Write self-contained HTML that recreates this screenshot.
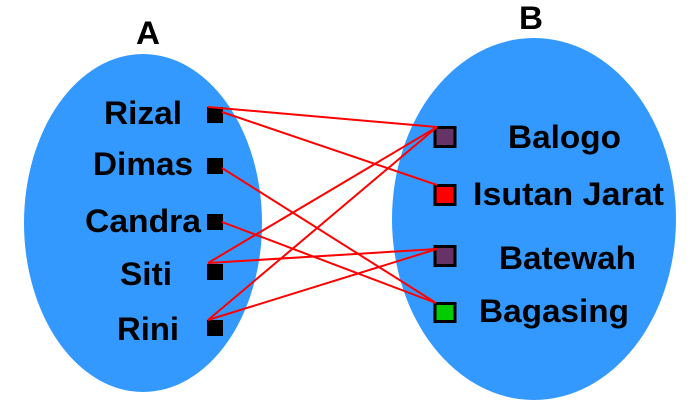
<!DOCTYPE html>
<html><head><style>html,body{margin:0;padding:0;background:#fff}svg{display:block}</style></head>
<body>
<svg width="693" height="401" viewBox="0 0 693 401" xmlns="http://www.w3.org/2000/svg" font-family="Liberation Sans, Arial, sans-serif" font-weight="bold" fill="#000">
<ellipse cx="143" cy="223" rx="119" ry="169" fill="#3399ff"/>
<ellipse cx="534" cy="219" rx="142" ry="181" fill="#3399ff"/>
<text x="136" y="44" font-size="32" textLength="24" lengthAdjust="spacingAndGlyphs">A</text>
<text x="519" y="29" font-size="32" textLength="24" lengthAdjust="spacingAndGlyphs">B</text>
<g font-size="32">
<text x="104" y="124" textLength="78" lengthAdjust="spacingAndGlyphs">Rizal</text>
<text x="93" y="175" textLength="100" lengthAdjust="spacingAndGlyphs">Dimas</text>
<text x="85" y="232" textLength="116" lengthAdjust="spacingAndGlyphs">Candra</text>
<text x="120" y="285" textLength="52" lengthAdjust="spacingAndGlyphs">Siti</text>
<text x="117" y="340" textLength="62" lengthAdjust="spacingAndGlyphs">Rini</text>
<text x="508" y="148" textLength="113" lengthAdjust="spacingAndGlyphs">Balogo</text>
<text x="473" y="205" textLength="191" lengthAdjust="spacingAndGlyphs">Isutan Jarat</text>
<text x="499" y="269" textLength="137" lengthAdjust="spacingAndGlyphs">Batewah</text>
<text x="479" y="322" textLength="150" lengthAdjust="spacingAndGlyphs">Bagasing</text>
</g>
<g fill="#000">
<rect x="207" y="107" width="16" height="16"/>
<rect x="207" y="158" width="16" height="16"/>
<rect x="207" y="214" width="16" height="16"/>
<rect x="207" y="264" width="16" height="16"/>
<rect x="207" y="320" width="16" height="16"/>
</g>
<g stroke="#000" stroke-width="3">
<rect x="435" y="127.5" width="20" height="19" fill="#663366"/>
<rect x="435" y="185.5" width="20" height="19" fill="#ff0000"/>
<rect x="435" y="246.5" width="20" height="19" fill="#663366"/>
<rect x="435" y="303.5" width="20" height="18" fill="#00cc00"/>
</g>
<g stroke="#ff0000" stroke-width="2" fill="none">
<line x1="208" y1="107" x2="437" y2="127"/>
<line x1="222" y1="112" x2="437" y2="185"/>
<line x1="222" y1="168" x2="436" y2="303"/>
<line x1="222" y1="222" x2="436" y2="303"/>
<line x1="208" y1="263" x2="437" y2="127"/>
<line x1="208" y1="263" x2="437" y2="249"/>
<line x1="208" y1="320" x2="437" y2="127"/>
<line x1="208" y1="320" x2="437" y2="249"/>
</g>
</svg>
</body></html>
